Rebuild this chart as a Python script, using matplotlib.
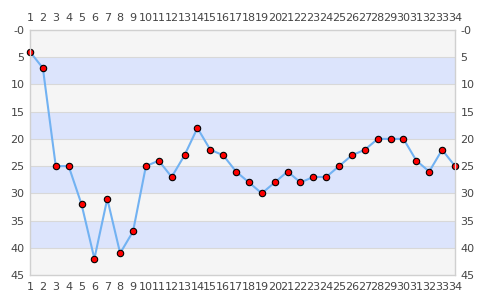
import numpy as np
import matplotlib
matplotlib.use("Agg")
import matplotlib.pyplot as plt

x_vals = list(range(1, 35))
y_vals = [4, 7, 25, 25, 32, 42, 31, 41, 37, 25, 24, 27, 23, 18, 22, 23, 26, 28,
          30, 28, 26, 28, 27, 27, 25, 23, 22, 20, 20, 20, 24, 26, 22, 25]
y_ticks = [0, 5, 10, 15, 20, 25, 30, 35, 40, 45]
y_labels = ["-0", "5", "10", "15", "20", "25", "30", "35", "40", "45"]

fig = plt.figure(figsize=(4.85, 3.0), dpi=100)
ax = fig.add_axes([30 / 485, 25 / 300, 425 / 485, 245 / 300])

# alternating bands
for i in range(9):
    col = "#f5f5f5" if i % 2 == 0 else "#dce4fc"
    ax.axhspan(i * 5, i * 5 + 5, color=col, zorder=0, lw=0)
for t in y_ticks[1:-1]:
    ax.axhline(t, color="#d8d8d8", lw=0.8, zorder=1)

ax.plot(x_vals, y_vals, color="#72b2f2", lw=1.5, zorder=2,
        marker="o", markersize=4.6, markerfacecolor="red",
        markeredgecolor="black", markeredgewidth=0.8, clip_on=False)

ax.set_xlim(1, 34)
ax.set_ylim(45, 0)
ax.set_xticks(x_vals)
ax.set_xticklabels([str(v) for v in x_vals])
ax.set_yticks(y_ticks)
ax.set_yticklabels(y_labels)
ax.tick_params(axis="both", length=0, labelsize=8, colors="#444444",
               top=True, labeltop=True, right=True, labelright=True, pad=4)
ax.tick_params(axis="x", pad=5)
for s in ax.spines.values():
    s.set_color("#d0d0d0")
    s.set_linewidth(1)

fig.savefig("out.png", dpi=100, facecolor="white")
